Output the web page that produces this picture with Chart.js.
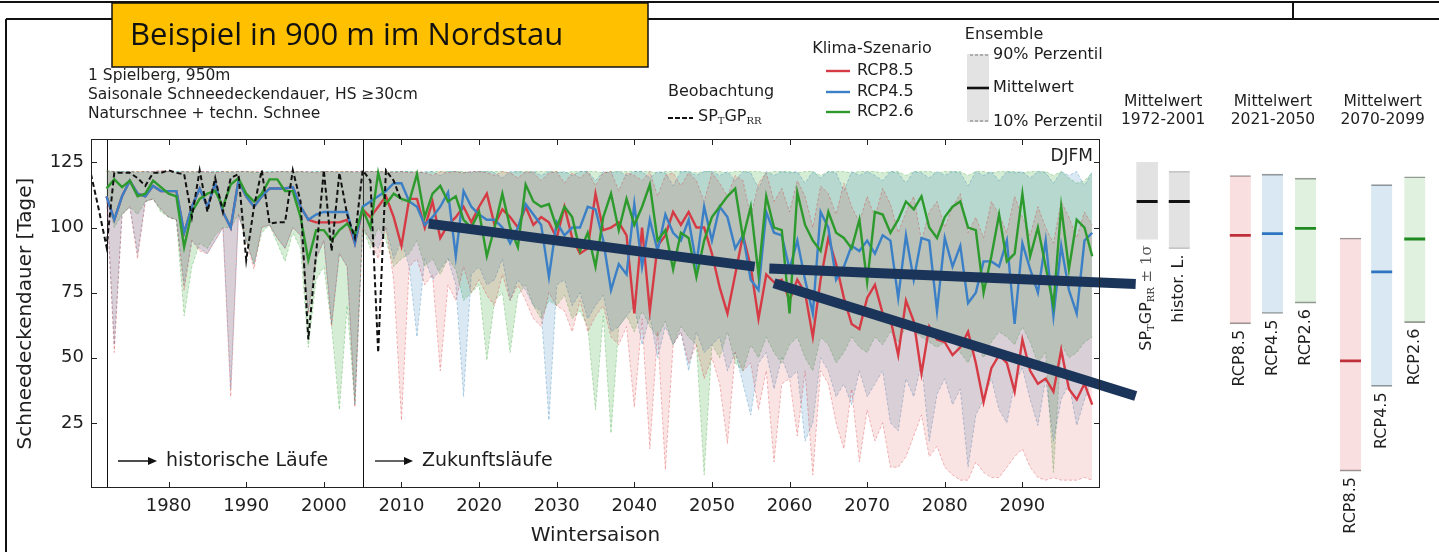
<!DOCTYPE html>
<html>
<head>
<meta charset="utf-8">
<script src="https://cdn.jsdelivr.net/npm/chart.js@4.4.1/dist/chart.umd.min.js"></script>
<style>
html, body { margin: 0; padding: 0; background: #fff; overflow: hidden; }
#wrap { position: relative; width: 1439px; height: 552px; }
canvas { position: absolute; top: 0; }
#main { left: 0; width: 1439px; height: 552px; }
#side { left: 1100px; width: 339px; height: 552px; }
</style>
</head>
<body>
<div id="wrap">
  <canvas id="main" width="1439" height="552"></canvas>
  <canvas id="side" width="339" height="552"></canvas>
</div>
<script>
// ---------------- Daten ----------------
// Modelljahre 1972 .. 2099 (Wintersaison)
var firstYear = 1972;
// Beobachtung SP_T GP_RR, 1970 .. 2010
var obsFirstYear = 1970;
var obs = [
  120.5, 107, 92.6, 121, 121, 121, 119, 116, 121, 121,
  122, 121, 120.5, 104, 122, 106, 119, 106, 119, 120.5,
  87.5, 108, 122, 101.5, 102, 102, 122, 110, 57, 90,
  122, 91, 121, 105, 96, 122, 118, 52, 122, 118,
  110
];

// Mittelwerte der Ensembles
var rcp85Mean = [
  112, 103, 112, 118, 113, 112, 116, 114,
  114, 114, 98, 108, 115, 108, 117, 106, 100, 118,
  112, 108, 112, 115, 115, 115, 115.5, 108, 103, 102,
  102, 102, 102, 103, 94, 107, 104, 108, 112, 104,
  93, 111, 111, 100, 110, 96, 101, 104, 108, 102,
  108, 113, 101, 107, 104, 100, 108, 101, 104, 102,
  96, 108, 96, 90, 92, 113, 99, 100, 102, 97,
  67, 100, 68, 93, 97, 106, 101, 106, 100, 100,
  90, 77, 67, 82, 97, 85, 65, 82, 79, 80,
  72, 80, 75, 58, 80, 96, 86, 73, 63, 61,
  73, 78, 67, 65, 51, 72, 64, 44, 62, 57,
  56, 51, 54, 60, 48, 33, 46, 51, 48, 37,
  57, 45, 40, 42, 37, 53, 38, 34, 40, 32
];
var rcp45Mean = [
  112, 103, 112, 118, 113, 112, 116, 114,
  114, 114, 98, 108, 115, 108, 117, 106, 100, 118,
  112, 108, 112, 115, 115, 115, 115.5, 108, 103, 105,
  106, 106, 106, 106, 94, 108, 110, 112, 114, 117,
  117, 110, 108, 101, 104, 108, 113.5, 89, 114, 108,
  105, 103, 103, 100, 94, 100, 109, 105, 101, 81,
  102, 97, 100, 100, 108, 107, 95, 76, 86, 82,
  109, 85, 103, 91, 105, 98, 95, 103, 86, 108,
  95, 108, 104, 92, 97, 80, 76, 106, 98, 97,
  84, 95, 80, 67, 106, 100, 80, 85, 93, 91,
  95, 90, 97, 95, 73, 97, 80, 96, 95, 68,
  96, 85, 93, 71, 75, 87, 87, 85, 95, 63,
  94, 84, 75, 95, 66, 93, 76, 67, 95, 98
];
var rcp26Mean = [
  115, 118.5, 115.5, 118, 112, 113, 118, 115.5,
  113, 112, 92.5, 106, 111, 113, 114, 108, 116.5, 119,
  113, 110, 113, 118.5, 118.5, 114, 114, 104, 87.5, 99,
  99, 95, 99, 101.5, 97.5, 107, 100, 121, 109, 113,
  111, 110, 120.5, 104, 113, 116, 110, 112, 103, 100,
  106, 89, 100, 113, 100, 92.5, 116.5, 110, 108, 109,
  100, 108, 104, 91, 98, 85, 104, 113, 99, 111,
  101, 108, 116.5, 95, 99, 84, 98, 96, 81, 95,
  104, 108, 112, 115, 96, 108, 82, 112, 100, 99,
  67, 113.5, 101, 95, 91, 106, 98, 96, 92, 103,
  79, 106, 105, 98, 103, 110, 107, 112, 100, 96,
  104, 108, 110, 100, 99, 75, 89, 105, 87, 90,
  113, 89, 100, 85, 70, 108, 84, 103, 100, 89
];

// 10% Perzentil
var rcp85P10 = [
  112, 52, 105, 108, 88, 110, 111, 107,
  104, 103, 76, 95, 91, 90, 95, 100, 35, 105,
  95, 84, 100, 101, 96, 92, 100, 97, 67, 88,
  95, 62, 90, 85, 31, 100, 95, 88, 100, 80,
  26, 85, 88, 78, 82, 45, 78, 72, 85, 75,
  80, 74, 70, 82, 72, 78, 72, 65, 62, 75,
  70, 68, 60, 72, 60, 66, 70, 58, 55, 62,
  31, 65, 15, 60, 7, 55, 60, 48, 55, 42,
  50, 40, 17, 52, 45, 48, 30, 45, 10, 40,
  42, 20, 45, 5, 45, 40, 25, 15, 38, 10,
  30, 18, 25, 8, 8, 12, 20, 28, 12, 16,
  8, 5, 3, 3, 10, 6, 4, 4, 8, 12,
  15, 8, 4, 3, 4, 3, 3, 3, 4, 3
];
var rcp45P10 = [
  112, 55, 105, 108, 90, 110, 111, 107,
  104, 103, 78, 95, 92, 90, 95, 100, 38, 105,
  95, 86, 100, 101, 96, 92, 100, 97, 68, 88,
  95, 63, 90, 85, 32, 100, 95, 92, 100, 88,
  95, 85, 58, 88, 80, 84, 88, 78, 35, 82,
  85, 78, 80, 88, 72, 80, 76, 70, 68, 26,
  78, 80, 70, 75, 65, 70, 74, 60, 62, 66,
  70, 55, 66, 50, 62, 55, 60, 45, 60, 52,
  55, 58, 45, 52, 40, 28, 48, 52, 38, 50,
  42, 45, 18, 25, 50, 45, 35, 40, 32, 45,
  35, 40, 45, 25, 22, 42, 35, 48, 18, 36,
  42, 32, 38, 8, 28, 34, 42, 30, 25, 40,
  46, 34, 24, 42, 18, 34, 40, 24, 34, 42
];
var rcp26P10 = [
  112, 100, 105, 108, 105, 110, 111, 106,
  104, 103, 66, 85, 94, 92, 97, 100, 100, 105,
  95, 86, 98, 101, 94, 87, 98, 92, 54, 80,
  85, 62, 30, 70, 32, 100, 92, 100, 95, 85,
  88, 90, 95, 85, 88, 82, 88, 84, 72, 75,
  78, 49, 72, 75, 52, 74, 78, 70, 65, 72,
  70, 74, 65, 68, 62, 30, 66, 21, 62, 66,
  60, 68, 62, 58, 64, 55, 62, 58, 55, 5,
  55, 50, 60, 48, 45, 55, 50, 58, 52, 48,
  55, 58, 50, 45, 58, 55, 48, 52, 58, 54,
  52, 58, 55, 60, 56, 62, 60, 58, 56, 54,
  56, 58, 52, 48, 55, 50, 56, 60, 58, 55,
  62, 56, 48, 52, 6, 55, 50, 52, 56, 58
];

// 90% Perzentil
var rcp85P90 = [
  121.5, 121.5, 121, 121.5, 121.5, 121.5, 121.5, 122,
  121.5, 121, 121.5, 121.5, 121.5, 121.5, 121, 121.5, 121.5, 121.5,
  121.5, 121.5, 121.5, 121, 121.5, 121.5, 121.5, 121.5, 121.5, 121,
  121.5, 121.5, 121.5, 121.5, 121.5, 121.5, 121.5, 121.5, 121.5, 121,
  121.5, 121, 121.5, 121, 120, 121.5, 121, 121.5, 121, 121.5,
  121.5, 121, 120, 121.5, 121, 119, 121.5, 121, 118, 121,
  121.5, 117, 121, 119, 121.5, 116, 121, 121.5, 114, 121,
  120, 118, 121.5, 112, 120, 121, 116, 121, 118, 110,
  121, 117, 112, 120, 118, 104, 117, 121, 110, 115,
  106, 118, 112, 100, 116, 113, 105, 117, 108, 102,
  112, 104, 115, 109, 98, 106, 112, 95, 106, 110,
  100, 108, 113, 98, 104, 96, 110, 105, 98, 112,
  104, 97, 108, 100, 94, 110, 104, 96, 106, 101
];
var rcp45P90 = [
  121.5, 121.5, 121.5, 121.5, 121, 121.5, 121.5, 121.5,
  121.5, 121.5, 121.5, 121, 121.5, 121.5, 121.5, 121.5, 121, 121.5,
  121.5, 121, 121.5, 121.5, 121.5, 121.5, 121, 121.5, 121.5, 121.5,
  121.5, 121.5, 121, 121.5, 121.5, 121.5, 121.5, 121.5, 121, 121.5,
  121.5, 121.5, 121, 121.5, 121.5, 120, 121.5, 121.5, 121, 121.5,
  121.5, 121.5, 121, 119, 121.5, 121.5, 121, 121.5, 120, 121.5,
  121, 121.5, 120, 121.5, 121.5, 118, 121.5, 121, 121.5, 120,
  121.5, 121.5, 119, 121.5, 121, 116, 121.5, 121.5, 120, 121.5,
  121.5, 120, 121.5, 118, 121.5, 121, 115, 121.5, 120, 121.5,
  121, 121.5, 117, 121.5, 119, 121.5, 121, 114, 121.5, 120,
  121.5, 120, 118, 121.5, 121, 117, 121.5, 121, 119, 121.5,
  120, 121.5, 121, 116, 121.5, 120, 121.5, 118, 121.5, 121,
  121.5, 119, 121.5, 121, 117, 121.5, 120, 121.5, 116, 121.5
];
var rcp26P90 = [
  122, 121.5, 121.5, 121.5, 121.5, 121.5, 121, 121.5,
  121.5, 121.5, 121.5, 121.5, 121.5, 121, 121.5, 121.5, 121.5, 121.5,
  121.5, 121.5, 121, 121.5, 121.5, 121.5, 121.5, 121.5, 121, 121.5,
  121.5, 121.5, 121.5, 121.5, 121, 121.5, 121.5, 121.5, 121.5, 121.5,
  121.5, 121.5, 121.5, 121, 121.5, 121.5, 121.5, 121.5, 121.5, 121,
  121.5, 121.5, 121.5, 121.5, 121, 121.5, 121.5, 121.5, 121.5, 121.5,
  121.5, 121, 121.5, 121.5, 121.5, 121.5, 121, 121.5, 121.5, 121.5,
  121.5, 121.5, 121.5, 121, 121.5, 121.5, 121.5, 121.5, 121, 121.5,
  121.5, 121.5, 121, 121.5, 121.5, 121.5, 121.5, 121, 121.5, 121.5,
  121.5, 121, 121.5, 121.5, 120, 121.5, 121.5, 121.5, 121, 121.5,
  121.5, 121.5, 121, 121.5, 121.5, 120, 121.5, 121.5, 121.5, 121,
  121.5, 121.5, 121.5, 120, 121.5, 121.5, 121, 121.5, 121.5, 121.5,
  121, 121.5, 121.5, 121.5, 120, 121.5, 119, 117, 118, 121
];

// Mittelwerte rechts (Boxen)
var boxLabels = ['SPGP', 'histor. L.', 'RCP8.5', 'RCP4.5', 'RCP2.6', 'RCP8.5', 'RCP4.5', 'RCP2.6'];
var boxLow  = [95.5, 92, 63, 67, 71, 6.5, 39, 63.5];
var boxHigh = [125, 121.5, 120, 120.5, 119, 96, 116.5, 119.5];
var boxMean = [110, 110, 97, 97.7, 99.7, 48.8, 83, 95.6];
var periods = ['1972-2001', '2021-2050', '2070-2099'];

// Trendpfeile (Jahr, Tage)
var trendLines = [
  [[2013.5, 101.5], [2055.5, 85]],
  [[2057.4, 84.3], [2104.6, 78.3]],
  [[2058, 78.6], [2104.6, 35.3]]
];

// ---------------- Darstellung ----------------
var SANS = "'DejaVu Sans', sans-serif";
var SERIF = "'DejaVu Serif', serif";
var TXT = '#1e1e1e';
var colRed = '#d63a44', colBlue = '#3b80c6', colGreen = '#2c9a2c';

function pts(vals, start) {
  return vals.map(function (v, i) { return { x: start + i, y: v }; });
}

function bandSets(p10, p90, rgb, alpha) {
  return [
    { data: pts(p10, firstYear), borderColor: 'rgba(' + rgb + ',0.4)', borderWidth: 0.8, borderDash: [3, 2],
      pointRadius: 0, fill: false, order: 20, tension: 0 },
    { data: pts(p90, firstYear), borderColor: 'rgba(' + rgb + ',0.4)', borderWidth: 0.8, borderDash: [3, 2],
      pointRadius: 0, fill: '-1', backgroundColor: 'rgba(' + rgb + ',' + alpha + ')', order: 20, tension: 0 }
  ];
}

function line(ctx, x1, y1, x2, y2) {
  ctx.beginPath(); ctx.moveTo(x1, y1); ctx.lineTo(x2, y2); ctx.stroke();
}
function text(ctx, s, x, y, size, align, color, font) {
  ctx.font = size + 'px ' + (font || SANS);
  ctx.textAlign = align || 'left';
  ctx.textBaseline = 'middle';
  ctx.fillStyle = color || TXT;
  ctx.fillText(s, x, y);
}
// SP_T GP_RR mit tiefgestellten Zeichen
function spgp(ctx, x, y, size, measureOnly) {
  var parts = [['SP', 0], ['T', 1], ['GP', 0], ['RR', 1]];
  var cx = x;
  ctx.textBaseline = 'middle';
  ctx.textAlign = 'left';
  parts.forEach(function (p) {
    ctx.font = p[1] ? Math.round(size * 0.62) + 'px ' + SERIF : size + 'px ' + SANS;
    if (!measureOnly) ctx.fillText(p[0], cx, y + (p[1] ? size * 0.28 : 0));
    cx += ctx.measureText(p[0]).width;
  });
  return cx - x;
}
function arrow(ctx, x1, x2, y) {
  ctx.strokeStyle = '#111'; ctx.fillStyle = '#111'; ctx.lineWidth = 1.3;
  line(ctx, x1, y, x2 - 6, y);
  ctx.beginPath(); ctx.moveTo(x2, y); ctx.lineTo(x2 - 9, y - 4); ctx.lineTo(x2 - 9, y + 4); ctx.closePath(); ctx.fill();
}

var mainDeco = {
  id: 'mainDeco',
  beforeDraw: function (chart) {
    var ctx = chart.ctx;
    ctx.save(); ctx.fillStyle = '#fff'; ctx.fillRect(0, 0, chart.width, chart.height); ctx.restore();
  },
  beforeDatasetsDraw: function (chart) {
    var ctx = chart.ctx, a = chart.chartArea, x = chart.scales.x;
    ctx.save(); ctx.strokeStyle = '#111'; ctx.lineWidth = 1;
    [1972, 2005].forEach(function (yr) {
      var px = Math.round(x.getPixelForValue(yr)) + 0.5;
      line(ctx, px, a.top, px, a.bottom);
    });
    ctx.restore();
  },
  afterDatasetsDraw: function (chart) {
    var ctx = chart.ctx, x = chart.scales.x, y = chart.scales.y;
    ctx.save();
    ctx.strokeStyle = '#1b355a'; ctx.lineWidth = 10; ctx.lineCap = 'butt';
    trendLines.forEach(function (t) {
      line(ctx, x.getPixelForValue(t[0][0]), y.getPixelForValue(t[0][1]),
        x.getPixelForValue(t[1][0]), y.getPixelForValue(t[1][1]));
    });
    ctx.restore();
  },
  afterDraw: function (chart) {
    var ctx = chart.ctx, a = chart.chartArea, x = chart.scales.x, y = chart.scales.y;
    ctx.save();
    // Rahmen des Diagramms + Ticks nach innen
    ctx.strokeStyle = '#222'; ctx.lineWidth = 1;
    ctx.strokeRect(a.left + 0.5, a.top + 0.5, a.right - a.left - 1, a.bottom - a.top - 1);
    x.ticks.forEach(function (t) {
      if (t.value <= 1970 || t.value >= 2100) return;
      var px = Math.round(x.getPixelForValue(t.value)) + 0.5;
      line(ctx, px, a.bottom, px, a.bottom - 6);
      line(ctx, px, a.top, px, a.top + 6);
    });
    y.ticks.forEach(function (t) {
      if (t.value <= 0 || t.value % 25 !== 0) return;
      var py = Math.round(y.getPixelForValue(t.value)) + 0.5;
      line(ctx, a.left, py, a.left + 6, py);
      line(ctx, a.right, py, a.right - 6, py);
    });

    text(ctx, 'DJFM', a.right - 7, a.top + 18, 17, 'right');
    arrow(ctx, 118, 157, 461);
    text(ctx, 'historische Läufe', 166, 461, 19);
    arrow(ctx, 375, 413, 461);
    text(ctx, 'Zukunftsläufe', 422, 461, 19);

    // Info oben links
    text(ctx, '1 Spielberg, 950m', 88, 76, 15.5);
    text(ctx, 'Saisonale Schneedeckendauer, HS \u226530cm', 88, 95, 15.5);
    text(ctx, 'Naturschnee + techn. Schnee', 88, 114, 15.5);

    // Legende Beobachtung
    text(ctx, 'Beobachtung', 668, 92, 16);
    ctx.strokeStyle = '#111'; ctx.lineWidth = 2; ctx.setLineDash([5, 2]);
    line(ctx, 668, 118, 693, 118);
    ctx.setLineDash([]);
    ctx.fillStyle = TXT;
    spgp(ctx, 698, 117, 16);

    // Legende Klima-Szenario
    text(ctx, 'Klima-Szenario', 872, 49, 16, 'center');
    [[colRed, 'RCP8.5', 71], [colBlue, 'RCP4.5', 92], [colGreen, 'RCP2.6', 112]].forEach(function (l) {
      ctx.strokeStyle = l[0]; ctx.lineWidth = 2.4;
      line(ctx, 826, l[2], 850, l[2]);
      text(ctx, l[1], 857, l[2], 16);
    });

    // Legende Ensemble
    text(ctx, 'Ensemble', 1004, 35, 16, 'center');
    ctx.fillStyle = '#e3e3e3';
    ctx.fillRect(967, 54, 22, 68);
    ctx.strokeStyle = '#777'; ctx.lineWidth = 1; ctx.setLineDash([3, 2]);
    line(ctx, 970, 55, 990, 55);
    line(ctx, 970, 121, 990, 121);
    ctx.setLineDash([]);
    ctx.strokeStyle = '#111'; ctx.lineWidth = 2.6;
    line(ctx, 967, 88, 989, 88);
    text(ctx, '90% Perzentil', 993, 55, 16);
    text(ctx, 'Mittelwert', 993, 88, 16);
    text(ctx, '10% Perzentil', 993, 122, 16);

    // Seitenrahmen
    ctx.strokeStyle = '#111'; ctx.lineWidth = 2;
    line(ctx, 0, 2, 1439, 2);
    line(ctx, 6, 19, 1439, 19);
    line(ctx, 1293, 2, 1293, 19);
    line(ctx, 6, 19, 6, 552);

    // Titelkasten
    ctx.fillStyle = '#ffc000';
    ctx.fillRect(112, 3, 536, 64);
    ctx.strokeStyle = '#111'; ctx.lineWidth = 1.5;
    ctx.strokeRect(112, 3, 536, 64);
    text(ctx, 'Beispiel in 900 m im Nordstau', 130, 36, 31, 'left', '#111', "'Open Sans', sans-serif");
    ctx.restore();
  }
};

var mainChart = new Chart(document.getElementById('main'), {
  type: 'line',
  data: {
    datasets: []
      .concat(bandSets(rcp85P10, rcp85P90, '214,39,40', 0.13))
      .concat(bandSets(rcp45P10, rcp45P90, '31,119,180', 0.17))
      .concat(bandSets(rcp26P10, rcp26P90, '44,160,44', 0.2))
      .concat([
        { label: 'RCP8.5', data: pts(rcp85Mean, firstYear), borderColor: colRed, borderWidth: 2.4, pointRadius: 0, fill: false, order: 3 },
        { label: 'RCP4.5', data: pts(rcp45Mean, firstYear), borderColor: colBlue, borderWidth: 2.4, pointRadius: 0, fill: false, order: 2 },
        { label: 'RCP2.6', data: pts(rcp26Mean, firstYear), borderColor: colGreen, borderWidth: 2.4, pointRadius: 0, fill: false, order: 1 },
        { label: 'Beobachtung', data: pts(obs, obsFirstYear), borderColor: '#111', borderWidth: 2, borderDash: [5, 3], pointRadius: 0, fill: false, order: 0 }
      ])
  },
  options: {
    responsive: false,
    animation: false,
    layout: { padding: { left: 10, right: 339, top: 139, bottom: 0 } },
    plugins: { legend: { display: false }, tooltip: { enabled: false } },
    scales: {
      x: {
        type: 'linear', min: 1970, max: 2100,
        grid: { display: false, drawTicks: false },
        border: { display: false },
        ticks: {
          stepSize: 10, autoSkip: false, maxRotation: 0, padding: 8,
          color: TXT, font: { family: 'DejaVu Sans', size: 18 },
          callback: function (v) { return (v > 1970 && v < 2100 && v % 10 === 0) ? String(v) : ''; }
        },
        title: { display: true, text: 'Wintersaison', color: TXT, font: { family: 'DejaVu Sans', size: 20 }, padding: { top: 4, bottom: 4 } },
        afterFit: function (s) { s.height = 64; }
      },
      y: {
        min: 0, max: 134,
        grid: { display: false, drawTicks: false },
        border: { display: false },
        ticks: {
          stepSize: 25, padding: 7, color: TXT, font: { family: 'DejaVu Sans', size: 18 },
          callback: function (v) { return (v > 0 && v % 25 === 0) ? String(v) : ''; }
        },
        title: { display: true, text: 'Schneedeckendauer [Tage]', color: TXT, font: { family: 'DejaVu Sans', size: 20 }, padding: { top: 4, bottom: 4 } },
        afterFit: function (s) { s.width = 81; }
      }
    }
  },
  plugins: [mainDeco]
});

// ---------------- Boxen rechts ----------------
var boxSlots = [1, 2, 3.9, 4.9, 5.93, 7.33, 8.3, 9.33];
var boxFill = ['#e2e2e2', '#e2e2e2',
  'rgba(214,39,40,0.15)', 'rgba(31,119,180,0.17)', 'rgba(44,160,44,0.15)',
  'rgba(214,39,40,0.15)', 'rgba(31,119,180,0.17)', 'rgba(44,160,44,0.15)'];
var boxMeanCol = ['#111', '#111', '#c0303a', '#2f74c0', '#1f8a1f', '#c0303a', '#2f74c0', '#1f8a1f'];

var sideDeco = {
  id: 'sideDeco',
  afterDraw: function (chart) {
    var ctx = chart.ctx, x = chart.scales.x, y = chart.scales.y;
    ctx.save();
    // Ueberschriften
    [[0, 1], [2, 4], [5, 7]].forEach(function (g, i) {
      var cx = (x.getPixelForValue(boxSlots[g[0]]) + x.getPixelForValue(boxSlots[g[1]])) / 2;
      text(ctx, 'Mittelwert', cx, 102, 15.5, 'center');
      text(ctx, periods[i], cx, 120, 15.5, 'center');
    });
    // gedrehte Beschriftungen
    boxLabels.forEach(function (lab, i) {
      var cx = x.getPixelForValue(boxSlots[i]);
      var top = y.getPixelForValue(boxLow[i]) + 6;
      ctx.save();
      ctx.translate(cx, top);
      ctx.rotate(-Math.PI / 2);
      ctx.fillStyle = TXT;
      if (i === 0) {
        var w = spgp(ctx, 0, 0, 16, true);
        ctx.font = '15px ' + SERIF;
        var tail = ' \u00b1 1\u03c3';
        var w2 = ctx.measureText(tail).width;
        spgp(ctx, -(w + w2), 0, 16);
        text(ctx, tail, -w2, 0, 15, 'left', '#555', SERIF);
      } else {
        text(ctx, lab, 0, 0, 16, 'right');
      }
      ctx.restore();
    });
    ctx.restore();
  }
};

var sideChart = new Chart(document.getElementById('side'), {
  type: 'bar',
  data: {
    datasets: [
      {
        type: 'scatter',
        data: boxMean.map(function (m, i) { return { x: boxSlots[i], y: m }; }),
        pointStyle: 'line', pointRadius: 10.5, pointBorderWidth: 2.8,
        pointBorderColor: boxMeanCol, showLine: false, order: 0
      },
      {
        type: 'bar',
        data: boxLow.map(function (lo, i) { return { x: boxSlots[i], y: [lo, boxHigh[i]] }; }),
        backgroundColor: boxFill,
        borderColor: 'rgba(110,110,110,0.7)',
        borderWidth: function (c) { return c.dataIndex < 1 ? 0 : { top: 1, bottom: 1, left: 0, right: 0 }; },
        borderSkipped: false,
        barThickness: 21,
        order: 1
      }
    ]
  },
  options: {
    responsive: false,
    animation: false,
    layout: { padding: { left: 15, right: 0, top: 139, bottom: 64 } },
    plugins: { legend: { display: false }, tooltip: { enabled: false } },
    scales: {
      x: { type: 'linear', min: 0, max: 9.67, offset: false, display: false },
      y: { min: 0, max: 134, display: false }
    }
  },
  plugins: [sideDeco]
});
</script>
</body>
</html>
